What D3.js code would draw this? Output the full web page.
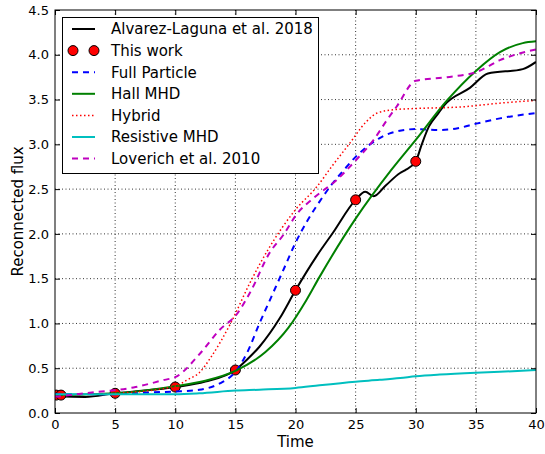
<!DOCTYPE html>
<html>
<head>
<meta charset="utf-8">
<script src="https://cdn.jsdelivr.net/npm/d3@7"></script>
<style>
  body { margin: 0; background: #fff; }
  svg { display: block; font-family: "DejaVu Sans", sans-serif; }
</style>
</head>
<body>
<svg id="chart" width="545" height="454"></svg>
<script>
// values
const alvarez = [[0,0.19],[2.5,0.18],[5,0.22],[7.5,0.25],[10,0.29],[12.5,0.35],[15,0.48],[16,0.6],[17,0.74],[18.7,1.06],[20,1.37],[21.8,1.76],[23.1,2.01],[25,2.38],[25.8,2.47],[26.5,2.42],[27.5,2.54],[28.7,2.68],[29.1,2.71],[30,2.81],[30.5,3.0],[31.1,3.2],[31.9,3.35],[32.4,3.44],[34.5,3.63],[36,3.79],[38.9,3.84],[40,3.92]];
const thisWork = [[0.1,0.2],[0.5,0.2],[5,0.22],[10,0.29],[15,0.48],[20,1.37],[25,2.38],[30,2.81]];
const fullParticle = [[0,0.21],[5,0.21],[8,0.23],[10,0.24],[12,0.26],[13.7,0.33],[15,0.46],[16,0.68],[17,1.0],[18,1.3],[19,1.6],[20,1.9],[21,2.15],[22,2.36],[23,2.55],[24,2.71],[25,2.86],[26,2.98],[27,3.07],[28,3.13],[30,3.17],[32,3.16],[33.5,3.18],[35,3.23],[37,3.29],[40,3.35]];
const hallMHD = [[0,0.2],[5,0.22],[10,0.3],[12.5,0.36],[15,0.47],[17.5,0.68],[19.4,0.95],[20.9,1.26],[22,1.52],[25,2.17],[28,2.72],[30,3.05],[32.6,3.49],[35,3.82],[37,4.03],[38.9,4.13],[40,4.15]];
const hybrid = [[0,0.2],[5,0.22],[10,0.3],[11,0.37],[12,0.45],[13,0.63],[14.6,1.0],[16.2,1.45],[17.7,1.82],[20,2.27],[21.8,2.53],[23,2.75],[24.5,3.01],[25.8,3.24],[26.8,3.35],[28.4,3.39],[30,3.4],[34,3.42],[37,3.46],[40,3.49]];
const resistiveMHD = [[0,0.21],[5,0.21],[10,0.21],[12,0.22],[15,0.25],[17,0.26],[20,0.28],[22,0.31],[25,0.35],[27,0.37],[28.7,0.39],[30,0.41],[32,0.43],[35,0.45],[37,0.46],[40,0.48]];
const loverich = [[0,0.18],[2.5,0.22],[6.7,0.29],[9.1,0.37],[10,0.4],[12.1,0.67],[13.7,0.93],[15.1,1.1],[16.2,1.34],[17.9,1.8],[19,1.99],[20.1,2.22],[21.5,2.4],[23.4,2.6],[25,2.82],[26.5,3.05],[27.6,3.27],[28.4,3.42],[30,3.71],[32.6,3.75],[35.1,3.81],[37,3.94],[40,4.06]];

const xTicks = [0, 5, 10, 15, 20, 25, 30, 35, 40];
const yTicks = [0, 0.5, 1, 1.5, 2, 2.5, 3, 3.5, 4, 4.5];

const series = [
  {name: "Alvarez-Laguna et al. 2018", data: alvarez, color: "#000000", dash: null, width: 2},
  {name: "This work", data: thisWork, color: "#ff0000", marker: true},
  {name: "Full Particle", data: fullParticle, color: "#0000ff", dash: "6,5", width: 2},
  {name: "Hall MHD", data: hallMHD, color: "#008000", dash: null, width: 2},
  {name: "Hybrid", data: hybrid, color: "#ff0000", dash: "1.5,2.5", width: 1.5},
  {name: "Resistive MHD", data: resistiveMHD, color: "#00bfbf", dash: null, width: 2},
  {name: "Loverich et al. 2010", data: loverich, color: "#bf00bf", dash: "6,5", width: 2}
];

const margin = {left: 55, top: 10, right: 9, bottom: 41};
const svg = d3.select("#chart");
const W = +svg.attr("width"), H = +svg.attr("height");
const pw = W - margin.left - margin.right, ph = H - margin.top - margin.bottom;

const x = d3.scaleLinear().domain([0, 40]).range([0, pw]);
const y = d3.scaleLinear().domain([0, 4.5]).range([ph, 0]);

const g = svg.append("g").attr("transform", `translate(${margin.left},${margin.top})`);

svg.append("defs").append("clipPath").attr("id", "clip")
  .append("rect").attr("width", pw).attr("height", ph);

// grid
g.append("g").selectAll("line").data(xTicks.slice(1, -1)).enter().append("line")
  .attr("x1", d => x(d)).attr("x2", d => x(d)).attr("y1", 0).attr("y2", ph)
  .attr("stroke", "#000").attr("stroke-width", 0.8).attr("stroke-dasharray", "1,2.5");
g.append("g").selectAll("line").data(yTicks.slice(1, -1)).enter().append("line")
  .attr("y1", d => y(d)).attr("y2", d => y(d)).attr("x1", 0).attr("x2", pw)
  .attr("stroke", "#000").attr("stroke-width", 0.8).attr("stroke-dasharray", "1,2.5");

// curves
const line = d3.line().x(d => x(d[0])).y(d => y(d[1])).curve(d3.curveMonotoneX);
const plot = g.append("g").attr("clip-path", "url(#clip)");
series.forEach(s => {
  if (s.marker) {
    plot.append("g").selectAll("circle").data(s.data).enter().append("circle")
      .attr("cx", d => x(d[0])).attr("cy", d => y(d[1])).attr("r", 5)
      .attr("fill", s.color).attr("stroke", "#000").attr("stroke-width", 1);
  } else {
    plot.append("path").datum(s.data)
      .attr("d", line).attr("fill", "none")
      .attr("stroke", s.color).attr("stroke-width", s.width)
      .attr("stroke-dasharray", s.dash);
  }
});

// axes (ticks inward, mirrored)
const fmt = d3.format(".1f");
const axB = g.append("g").attr("transform", `translate(0,${ph})`)
  .call(d3.axisBottom(x).tickValues(xTicks).tickSize(-5).tickPadding(7).tickFormat(d3.format("d")));
const axT = g.append("g")
  .call(d3.axisTop(x).tickValues(xTicks).tickSize(-5).tickFormat(""));
const axL = g.append("g")
  .call(d3.axisLeft(y).tickValues(yTicks).tickSize(-5).tickPadding(6).tickFormat(fmt));
const axR = g.append("g").attr("transform", `translate(${pw},0)`)
  .call(d3.axisRight(y).tickValues(yTicks).tickSize(-5).tickFormat(""));
[axB, axT, axL, axR].forEach(a => {
  a.select(".domain").remove();
  a.selectAll("line").attr("stroke", "#000").attr("stroke-width", 1);
  a.selectAll("text").attr("font-size", 13).attr("fill", "#000").attr("font-family", "DejaVu Sans");
});
g.append("rect").attr("width", pw).attr("height", ph)
  .attr("fill", "none").attr("stroke", "#000").attr("stroke-width", 1);

// axis labels
svg.append("text").attr("x", margin.left + pw / 2).attr("y", 447)
  .attr("text-anchor", "middle").attr("font-size", 15).text("Time");
svg.append("text")
  .attr("transform", `translate(23,${margin.top + ph / 2}) rotate(-90)`)
  .attr("text-anchor", "middle").attr("font-size", 15).text("Reconnected flux");

// legend
const lg = svg.append("g").attr("transform", "translate(62,17)");
lg.append("rect").attr("x", 0.5).attr("y", 0.5).attr("width", 256).attr("height", 156)
  .attr("fill", "#fff").attr("stroke", "#000").attr("stroke-width", 1);
series.forEach((s, i) => {
  const cy = 12 + i * 21.6;
  const row = lg.append("g").attr("transform", `translate(0,${cy})`);
  if (s.marker) {
    [11, 32].forEach(cx => row.append("circle").attr("cx", cx).attr("cy", 0).attr("r", 5)
      .attr("fill", s.color).attr("stroke", "#000").attr("stroke-width", 1));
  } else {
    row.append("line").attr("x1", 10).attr("x2", 33).attr("y1", 0).attr("y2", 0)
      .attr("stroke", s.color).attr("stroke-width", s.width).attr("stroke-dasharray", s.dash);
  }
  row.append("text").attr("x", 49).attr("y", 0).attr("dy", "0.36em")
    .attr("font-size", 15).text(s.name);
});
</script>
</body>
</html>
